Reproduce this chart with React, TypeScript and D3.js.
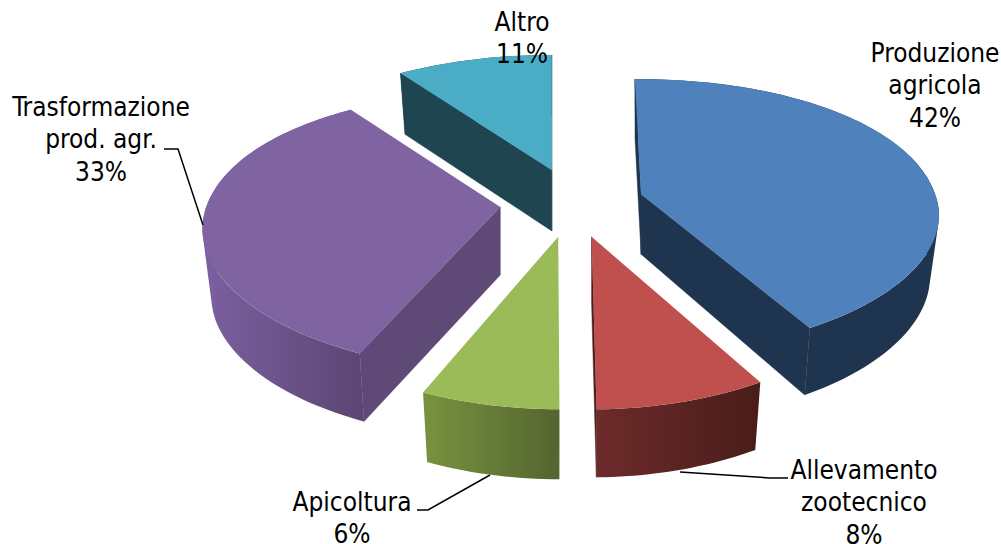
import React from "react";
import * as d3 from "d3";

// Share of activities, clockwise from twelve o'clock
const categories = ["Produzione agricola", "Allevamento zootecnico", "Apicoltura", "Trasformazione prod. agr.", "Altro"];
const shares = [42, 8, 6, 33, 11];
const labelLines = [
  ["Produzione", "agricola", "42%"],
  ["Allevamento", "zootecnico", "8%"],
  ["Apicoltura", "6%"],
  ["Trasformazione", "prod. agr.", "33%"],
  ["Altro", "11%"],
];
const topColors = ["#4f81bd", "#c0504d", "#9bbb59", "#8064a2", "#4bacc6"];
const faceColors = ["#1f344f", "#4c1e1c", "#55682f", "#5f4977", "#1f4650"];
const wallStart = ["#1f344f", "#6d2b2a", "#77933f", "#7c60a0", "#1f4650"];
const wallEnd = ["#1f344f", "#481c1a", "#546530", "#5c4674", "#1f4650"];

// Projection of the tilted disc; each wedge keeps one shape and is slid out from the hub
const W = 1001;
const H = 544;
const CX = 573;
const CY = 205;
const RX = 294;
const RY = 138;
const PERSPECTIVE = 0.2;
const EXPLODE = 0.236;
const START = (-1.4 * Math.PI) / 180;
// Per-wedge corrections for the way perspective skews wedges slid away from the hub
const apexNudge: [number, number][] = [[2, -2], [-1, -1], [-3, -2], [-4, -4], [3, -6]];
const angleSkew: [number, number][] = [[0, 0.7], [0.7, 0.6], [1.2, 2.8], [3.8, 6], [5.5, 1.4]];
const frontSquash = [0.92, 1, 1, 0.95, 1];
const apexDepth = [60, 66, 66, 68, 61];
const frontDepth = [69, 68, 70, 68, 61];

type Pt = [number, number];
const disc = (u: number, v: number): Pt => {
  const s = 1 / (1 - PERSPECTIVE * v);
  return [RX * u * Math.pow(s, 0.8), RY * v * s];
};
const rad = (deg: number) => (deg * Math.PI) / 180;
const closed = d3.line<Pt>().curve(d3.curveLinearClosed);

const labelAnchors: { x: number; y: number }[] = [
  { x: 935, y: 62 },
  { x: 864, y: 479 },
  { x: 352, y: 511 },
  { x: 101, y: 116 },
  { x: 522, y: 31 },
];
const LINE_STEP = 32.4;
const leaders: (Pt[] | null)[] = [
  null,
  [[680, 472], [770, 478], [788, 478]],
  [[490, 475], [428, 510], [417, 510]],
  [[203, 225], [178, 149], [164, 149]],
  null,
];

export default function App() {
  const arcs = d3.pie<number>().sort(null).startAngle(START).endAngle(START + 2 * Math.PI)(shares);

  const slices = arcs.map((a, i) => {
    const mid = (a.startAngle + a.endAngle) / 2;
    const hub = disc(Math.sin(mid) * EXPLODE, -Math.cos(mid) * EXPLODE);
    const apex: Pt = [CX + hub[0] + apexNudge[i][0], CY + hub[1] + apexNudge[i][1]];
    const from = a.startAngle + rad(angleSkew[i][0]);
    const to = a.endAngle + rad(angleSkew[i][1]);
    const steps = Math.max(8, Math.ceil((to - from) * 40));
    const rim = d3.range(steps + 1).map((k): Pt => {
      const t = from + ((to - from) * k) / steps;
      const p = disc(Math.sin(t), -Math.cos(t));
      return [apex[0] + p[0], apex[1] + p[1] * (p[1] > 0 ? frontSquash[i] : 1)];
    });
    // The underside sits lower and narrows slightly towards the wedge's point
    const lower = (p: Pt): Pt => {
      const f = Math.max(0, p[1] - apex[1]) / 173;
      return [
        apex[0] + (p[0] - apex[0]) * 0.97,
        p[1] + apexDepth[i] + (frontDepth[i] - apexDepth[i]) * f,
      ];
    };
    const first = rim[0];
    const last = rim[rim.length - 1];
    const top = closed([apex, ...rim]) as string;
    // One quad per rim step, all wound the same way and merged, so the wall fills
    // the silhouette at the disc's extremes without seams between the steps
    const band = d3
      .pairs(rim)
      .map(([p, q]) => {
        const quad: Pt[] = [p, q, lower(q), lower(p)];
        return closed(d3.polygonArea(quad) < 0 ? quad.reverse() : quad) as string;
      })
      .join("");
    const faces: string[] = [];
    if (Math.sin(from) < 0) faces.push(closed([apex, first, lower(first), lower(apex)]) as string);
    if (Math.sin(to) > 0) faces.push(closed([apex, last, lower(last), lower(apex)]) as string);
    const xs = d3.extent(rim, (p) => p[0]) as [number, number];
    return { i, top, band, faces, xs };
  });

  const drawOrder = [4, 3, 0, 2, 1];

  return (
    <svg
      width={W}
      height={H}
      viewBox={`0 0 ${W} ${H}`}
      style={{ position: "absolute", left: 0, top: 0, background: "#fff" }}
    >
      <defs>
        {slices.map((s) => (
          <linearGradient
            key={s.i}
            id={`wall-${s.i}`}
            gradientUnits="userSpaceOnUse"
            x1={s.xs[0]}
            x2={s.xs[1]}
            y1={0}
            y2={0}
          >
            <stop offset="0" stopColor={wallStart[s.i]} />
            <stop offset="1" stopColor={wallEnd[s.i]} />
          </linearGradient>
        ))}
      </defs>
      {drawOrder.map((idx) => {
        const s = slices[idx];
        return (
          <g key={categories[idx]}>
            <path d={s.band} fill={`url(#wall-${idx})`} />
            {s.faces.map((d, k) => (
              <path key={k} d={d} fill={faceColors[idx]} stroke={faceColors[idx]} strokeWidth={0.5} />
            ))}
            <path d={s.top} fill={topColors[idx]} />
          </g>
        );
      })}
      {leaders.map((pts, i) =>
        pts ? (
          <path
            key={i}
            d={d3.line<Pt>()(pts) as string}
            fill="none"
            stroke="#000"
            strokeWidth={1.5}
          />
        ) : null
      )}
      {labelLines.map((lines, i) => (
        <text
          key={i}
          textAnchor="middle"
          fontFamily="'DejaVu Sans Condensed', 'DejaVu Sans', sans-serif"
          fontStretch="condensed"
          fontSize={26}
          fill="#000"
        >
          {lines.map((t, k) => (
            <tspan key={k} x={labelAnchors[i].x} y={labelAnchors[i].y + k * LINE_STEP}>
              {t}
            </tspan>
          ))}
        </text>
      ))}
    </svg>
  );
}
